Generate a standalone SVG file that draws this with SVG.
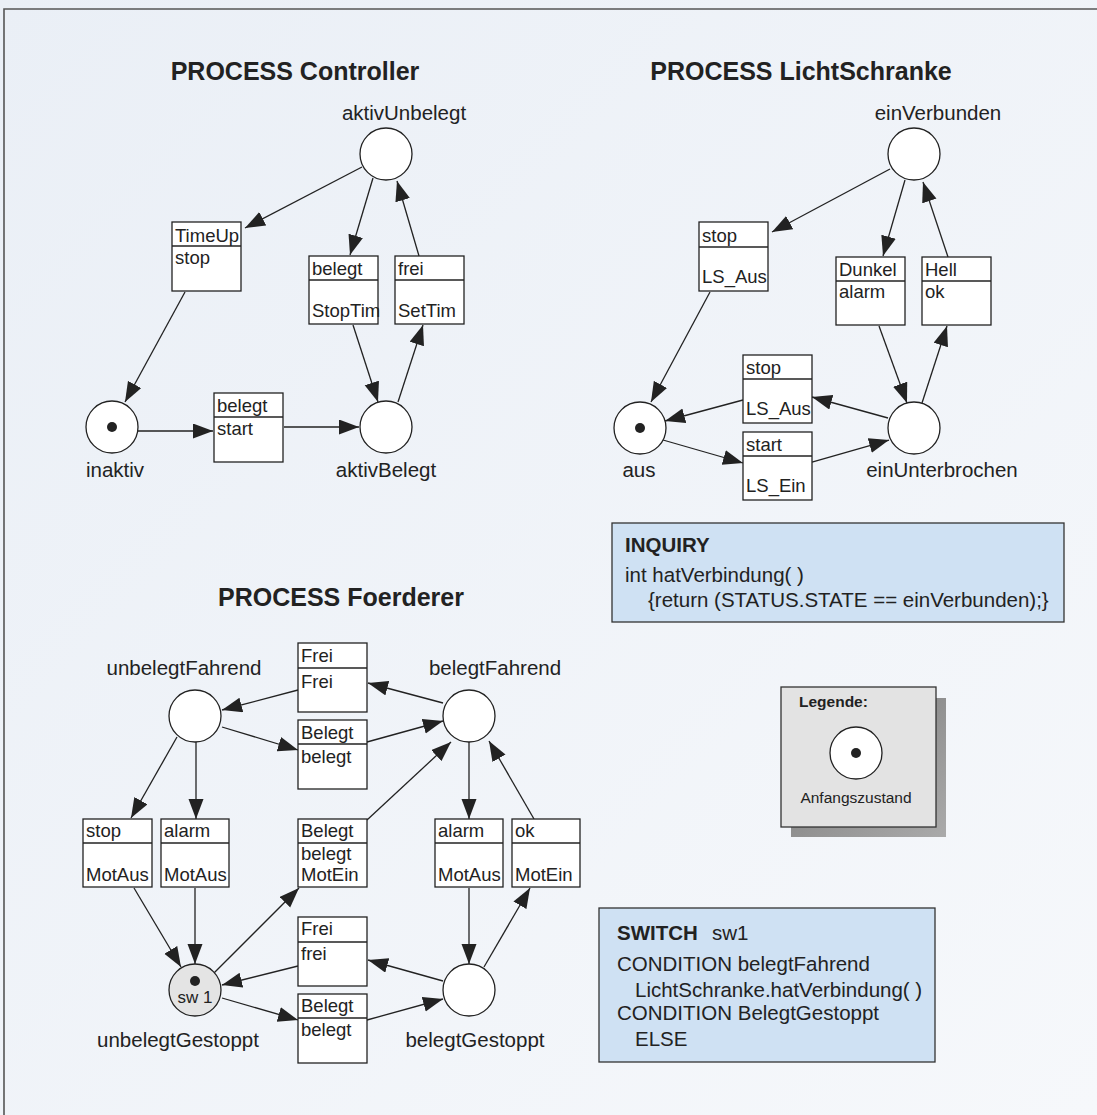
<svg xmlns="http://www.w3.org/2000/svg" width="1097" height="1115" viewBox="0 0 1097 1115">
<defs>
<marker id="ah" markerUnits="userSpaceOnUse" markerWidth="21" markerHeight="16" refX="20" refY="7.5" orient="auto">
<path d="M0,0 L20,7.5 L0,15 z" fill="#222"/>
</marker>
<linearGradient id="shadow" x1="0" y1="0" x2="1" y2="1">
<stop offset="0" stop-color="#777"/>
<stop offset="1" stop-color="#aaa"/>
</linearGradient>
<linearGradient id="bg" x1="0" y1="0" x2="1" y2="1">
<stop offset="0" stop-color="#eaeff6"/>
<stop offset="1" stop-color="#f6f8fb"/>
</linearGradient>
</defs>
<style>
text{font-family:"Liberation Sans",Arial,sans-serif;fill:#222}
.title{font-size:25px;font-weight:bold;text-anchor:middle}
.lbl{font-size:20.5px;text-anchor:middle}
.bt{font-size:18.5px}
.place{fill:#fff;stroke:#222;stroke-width:1.3}
.tok{fill:#222}
.box{fill:#fff;stroke:#222;stroke-width:1.3}
.div{stroke:#222;stroke-width:1.3}
.edge{fill:none;stroke:#222;stroke-width:1.3;marker-end:url(#ah)}
.blue{fill:#cfe1f3;stroke:#333;stroke-width:1.3}
.bl{font-size:20.5px}
.blb{font-size:20.5px;font-weight:bold}
</style>
<rect x="0" y="0" width="1097" height="1115" fill="url(#bg)"/>
<path d="M4,1115 L4,9 L1097,9" fill="none" stroke="#555" stroke-width="1.6"/>

<text class="title" x="295" y="80">PROCESS Controller</text>
<text class="title" x="801" y="80">PROCESS LichtSchranke</text>
<text class="title" x="341" y="606">PROCESS Foerderer</text>

<g id="connectors">
<line class="edge" x1="362" y1="167" x2="245" y2="228"/>
<line class="edge" x1="373" y1="178" x2="350" y2="255"/>
<line class="edge" x1="419" y1="256" x2="397" y2="181"/>
<line class="edge" x1="185" y1="292" x2="125" y2="402"/>
<line class="edge" x1="138" y1="431" x2="213" y2="431"/>
<line class="edge" x1="284" y1="427" x2="359" y2="427"/>
<line class="edge" x1="353" y1="325" x2="378" y2="402"/>
<line class="edge" x1="398" y1="402" x2="423" y2="325"/>

<line class="edge" x1="890" y1="169" x2="772" y2="232"/>
<line class="edge" x1="905" y1="180" x2="883" y2="256"/>
<line class="edge" x1="948" y1="257" x2="923" y2="182"/>
<line class="edge" x1="710" y1="292" x2="651" y2="402"/>
<line class="edge" x1="879" y1="326" x2="907" y2="403"/>
<line class="edge" x1="922" y1="403" x2="947" y2="326"/>
<line class="edge" x1="888" y1="418" x2="812" y2="397"/>
<line class="edge" x1="743" y1="400" x2="665" y2="421"/>
<line class="edge" x1="663" y1="440" x2="743" y2="463"/>
<line class="edge" x1="812" y1="462" x2="889" y2="440"/>

<line class="edge" x1="298" y1="690" x2="222" y2="710"/>
<line class="edge" x1="443" y1="703" x2="368" y2="683"/>
<line class="edge" x1="222" y1="727" x2="298" y2="750"/>
<line class="edge" x1="367" y1="742" x2="443" y2="721"/>
<line class="edge" x1="177" y1="737" x2="131" y2="818"/>
<line class="edge" x1="196" y1="742" x2="196" y2="819"/>
<line class="edge" x1="367" y1="820" x2="451" y2="742"/>
<line class="edge" x1="469" y1="742" x2="469" y2="819"/>
<line class="edge" x1="534" y1="819" x2="489" y2="741"/>
<line class="edge" x1="134" y1="888" x2="181" y2="967"/>
<line class="edge" x1="195" y1="888" x2="195" y2="964"/>
<line class="edge" x1="214" y1="973" x2="299" y2="888"/>
<line class="edge" x1="298" y1="966" x2="222" y2="985"/>
<line class="edge" x1="443" y1="981" x2="368" y2="960"/>
<line class="edge" x1="222" y1="998" x2="298" y2="1020"/>
<line class="edge" x1="367" y1="1020" x2="443" y2="999"/>
<line class="edge" x1="469" y1="888" x2="469" y2="964"/>
<line class="edge" x1="484" y1="967" x2="530" y2="888"/>
</g>

<!-- Controller -->
<g id="aktivUnbelegt"><circle class="place" cx="386" cy="154" r="26"/><text class="lbl" x="404" y="120">aktivUnbelegt</text></g>
<g id="inaktiv"><circle class="place" cx="112" cy="427" r="26"/><circle class="tok" cx="112" cy="427" r="5"/><text class="lbl" x="115" y="477">inaktiv</text></g>
<g id="aktivBelegt"><circle class="place" cx="386" cy="427" r="26"/><text class="lbl" x="386" y="477">aktivBelegt</text></g>
<g id="c_timeup"><rect class="box" x="172" y="222" width="69" height="69"/><line class="div" x1="172" y1="246" x2="241" y2="246"/><text class="bt" x="175" y="242">TimeUp</text><text class="bt" x="175" y="264">stop</text></g>
<g id="c_stoptim"><rect class="box" x="309" y="256" width="69" height="68"/><line class="div" x1="309" y1="280" x2="378" y2="280"/><text class="bt" x="312" y="275">belegt</text><text class="bt" x="312" y="317">StopTim</text></g>
<g id="c_settim"><rect class="box" x="395" y="256" width="69" height="68"/><line class="div" x1="395" y1="280" x2="464" y2="280"/><text class="bt" x="398" y="275">frei</text><text class="bt" x="398" y="317">SetTim</text></g>
<g id="c_start"><rect class="box" x="214" y="393" width="69" height="69"/><line class="div" x1="214" y1="417" x2="283" y2="417"/><text class="bt" x="217" y="412">belegt</text><text class="bt" x="217" y="435">start</text></g>

<!-- LichtSchranke -->
<g id="einVerbunden"><circle class="place" cx="914" cy="154" r="26"/><text class="lbl" x="938" y="120">einVerbunden</text></g>
<g id="aus"><circle class="place" cx="640" cy="428" r="26"/><circle class="tok" cx="640" cy="428" r="5"/><text class="lbl" x="639" y="477">aus</text></g>
<g id="einUnterbrochen"><circle class="place" cx="914" cy="428" r="26"/><text class="lbl" x="942" y="477">einUnterbrochen</text></g>
<g id="l_stop1"><rect class="box" x="699" y="222" width="69" height="69"/><line class="div" x1="699" y1="247" x2="768" y2="247"/><text class="bt" x="702" y="242">stop</text><text class="bt" x="702" y="283">LS_Aus</text></g>
<g id="l_dunkel"><rect class="box" x="836" y="257" width="69" height="68"/><line class="div" x1="836" y1="281" x2="905" y2="281"/><text class="bt" x="839" y="276">Dunkel</text><text class="bt" x="839" y="298">alarm</text></g>
<g id="l_hell"><rect class="box" x="922" y="257" width="69" height="68"/><line class="div" x1="922" y1="281" x2="991" y2="281"/><text class="bt" x="925" y="276">Hell</text><text class="bt" x="925" y="298">ok</text></g>
<g id="l_stop2"><rect class="box" x="743" y="355" width="69" height="68"/><line class="div" x1="743" y1="379" x2="812" y2="379"/><text class="bt" x="746" y="374">stop</text><text class="bt" x="746" y="415">LS_Aus</text></g>
<g id="l_start"><rect class="box" x="743" y="432" width="69" height="68"/><line class="div" x1="743" y1="456" x2="812" y2="456"/><text class="bt" x="746" y="451">start</text><text class="bt" x="746" y="492">LS_Ein</text></g>

<!-- Foerderer -->
<g id="unbelegtFahrend"><circle class="place" cx="195" cy="716" r="26"/><text class="lbl" x="184" y="675">unbelegtFahrend</text></g>
<g id="belegtFahrend"><circle class="place" cx="469" cy="716" r="26"/><text class="lbl" x="495" y="675">belegtFahrend</text></g>
<g id="unbelegtGestoppt"><circle class="place" cx="195" cy="990" r="26" style="fill:#e4e4e4"/><circle class="tok" cx="195" cy="981" r="5"/><text x="195" y="1003" style="font-size:17px;text-anchor:middle">sw 1</text><text class="lbl" x="178" y="1047">unbelegtGestoppt</text></g>
<g id="belegtGestoppt"><circle class="place" cx="469" cy="990" r="26"/><text class="lbl" x="475" y="1047">belegtGestoppt</text></g>
<g id="f_frei1"><rect class="box" x="298" y="643" width="69" height="69"/><line class="div" x1="298" y1="668" x2="367" y2="668"/><text class="bt" x="301" y="662">Frei</text><text class="bt" x="301" y="688">Frei</text></g>
<g id="f_belegt1"><rect class="box" x="298" y="720" width="69" height="69"/><line class="div" x1="298" y1="744" x2="367" y2="744"/><text class="bt" x="301" y="739">Belegt</text><text class="bt" x="301" y="763">belegt</text></g>
<g id="f_stop"><rect class="box" x="83" y="819" width="69" height="68"/><line class="div" x1="83" y1="843" x2="152" y2="843"/><text class="bt" x="86" y="837">stop</text><text class="bt" x="86" y="881">MotAus</text></g>
<g id="f_alarm1"><rect class="box" x="161" y="819" width="68" height="68"/><line class="div" x1="161" y1="843" x2="229" y2="843"/><text class="bt" x="164" y="837">alarm</text><text class="bt" x="164" y="881">MotAus</text></g>
<g id="f_belegt2"><rect class="box" x="298" y="819" width="69" height="68"/><line class="div" x1="298" y1="843" x2="367" y2="843"/><text class="bt" x="301" y="837">Belegt</text><text class="bt" x="301" y="860">belegt</text><text class="bt" x="301" y="881">MotEin</text></g>
<g id="f_alarm2"><rect class="box" x="435" y="819" width="68" height="68"/><line class="div" x1="435" y1="843" x2="503" y2="843"/><text class="bt" x="438" y="837">alarm</text><text class="bt" x="438" y="881">MotAus</text></g>
<g id="f_ok"><rect class="box" x="512" y="819" width="68" height="68"/><line class="div" x1="512" y1="843" x2="580" y2="843"/><text class="bt" x="515" y="837">ok</text><text class="bt" x="515" y="881">MotEin</text></g>
<g id="f_frei2"><rect class="box" x="298" y="917" width="69" height="69"/><line class="div" x1="298" y1="942" x2="367" y2="942"/><text class="bt" x="301" y="935">Frei</text><text class="bt" x="301" y="960">frei</text></g>
<g id="f_belegt3"><rect class="box" x="298" y="994" width="69" height="69"/><line class="div" x1="298" y1="1018" x2="367" y2="1018"/><text class="bt" x="301" y="1012">Belegt</text><text class="bt" x="301" y="1036">belegt</text></g>

<!-- INQUIRY -->
<g id="inquiry"><rect class="blue" x="612" y="523" width="452" height="99"/>
<text class="blb" x="625" y="552">INQUIRY</text>
<text class="bl" x="625" y="582">int hatVerbindung( )</text>
<text class="bl" x="648" y="607">{return (STATUS.STATE == einVerbunden);}</text></g>

<!-- Legend -->
<g id="legend">
<rect x="791" y="698" width="155" height="139" fill="url(#shadow)"/>
<rect x="781" y="687" width="155" height="140" fill="#e3e3e3" stroke="#333" stroke-width="1.3"/>
<text x="799" y="707" style="font-size:15.5px;font-weight:bold">Legende:</text>
<circle class="place" cx="856" cy="753" r="26"/><circle class="tok" cx="856" cy="753" r="5"/>
<text x="856" y="803" style="font-size:15.5px;text-anchor:middle">Anfangszustand</text>
</g>

<!-- SWITCH -->
<g id="switch"><rect class="blue" x="599" y="908" width="336" height="154"/>
<text class="blb" x="617" y="940">SWITCH</text><text class="bl" x="712" y="940">sw1</text>
<text class="bl" x="617" y="971">CONDITION belegtFahrend</text>
<text class="bl" x="635" y="997">LichtSchranke.hatVerbindung( )</text>
<text class="bl" x="617" y="1020">CONDITION BelegtGestoppt</text>
<text class="bl" x="635" y="1046">ELSE</text></g>
</svg>
